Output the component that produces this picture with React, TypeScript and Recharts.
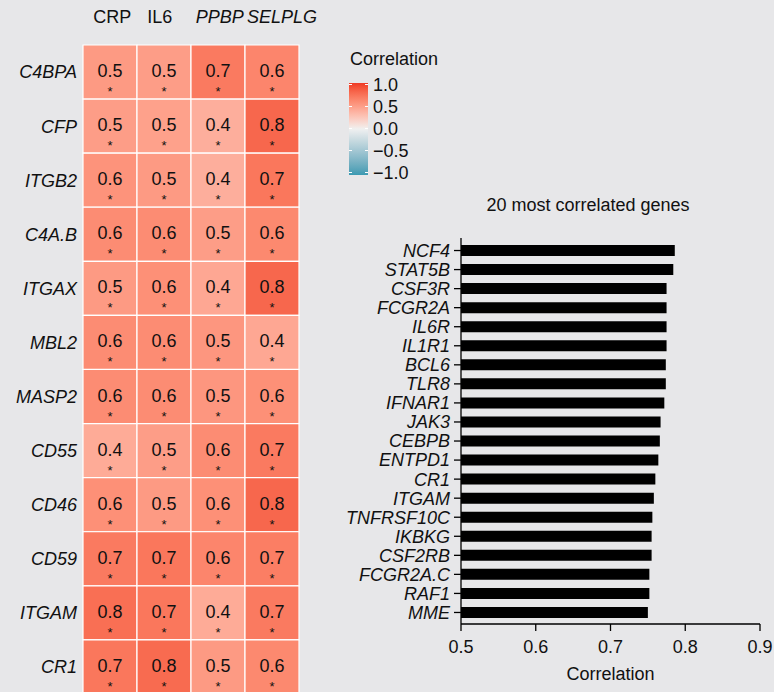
import { BarChart, Bar, XAxis, YAxis, Cell, LabelList, Legend } from "recharts";

const FONT = '"Liberation Sans", Arial, Helvetica, sans-serif';
const BG = "#E7E7E9";
const TEXT = "#111111";

// heatmap: genes x markers
const GENES = [
  "C4BPA",
  "CFP",
  "ITGB2",
  "C4A.B",
  "ITGAX",
  "MBL2",
  "MASP2",
  "CD55",
  "CD46",
  "CD59",
  "ITGAM",
  "CR1",
];
const COLUMNS = ["CRP", "IL6", "PPBP", "SELPLG"];
const ITALIC_COLUMNS = ["PPBP", "SELPLG"];

const CRP = [0.52, 0.5, 0.56, 0.6, 0.52, 0.6, 0.6, 0.42, 0.58, 0.7, 0.76, 0.72];
const IL6 = [0.5, 0.48, 0.52, 0.6, 0.58, 0.6, 0.6, 0.5, 0.52, 0.72, 0.72, 0.78];
const PPBP = [0.7, 0.4, 0.4, 0.5, 0.44, 0.54, 0.54, 0.6, 0.58, 0.64, 0.42, 0.52];
const SELPLG = [0.64, 0.8, 0.72, 0.62, 0.8, 0.44, 0.58, 0.7, 0.8, 0.68, 0.7, 0.62];

const LEGEND_TICKS = [1, 0.5, 0, -0.5, -1];

// bar chart: top correlated genes
const TOP_GENES = [
  "NCF4",
  "STAT5B",
  "CSF3R",
  "FCGR2A",
  "IL6R",
  "IL1R1",
  "BCL6",
  "TLR8",
  "IFNAR1",
  "JAK3",
  "CEBPB",
  "ENTPD1",
  "CR1",
  "ITGAM",
  "TNFRSF10C",
  "IKBKG",
  "CSF2RB",
  "FCGR2A.C",
  "RAF1",
  "MME",
];
const TOP_CORR = [
  0.786, 0.784, 0.775, 0.775, 0.775, 0.775, 0.774, 0.774, 0.772, 0.767,
  0.766, 0.764, 0.76, 0.758, 0.756, 0.755, 0.755, 0.752, 0.752, 0.75,
];
const X_TICKS = [0.5, 0.6, 0.7, 0.8, 0.9];

// diverging scale, interpolated in Lab like ggplot
const LOW = "#3B9AB2";
const MID = "#F0F0F0";
const HIGH = "#EF3A26";
const WHITE_PT = [0.95047, 1, 1.08883];

function hexToRgb(hex: string) {
  const n = parseInt(hex.slice(1), 16);
  return [(n >> 16) & 255, (n >> 8) & 255, n & 255];
}
function toLinear(c: number) {
  c /= 255;
  return c <= 0.04045 ? c / 12.92 : Math.pow((c + 0.055) / 1.055, 2.4);
}
function fromLinear(c: number) {
  const v = c <= 0.0031308 ? 12.92 * c : 1.055 * Math.pow(c, 1 / 2.4) - 0.055;
  return Math.round(Math.min(1, Math.max(0, v)) * 255);
}
function fLab(t: number) {
  return t > 216 / 24389 ? Math.cbrt(t) : ((24389 / 27) * t + 16) / 116;
}
function fLabInv(t: number) {
  return t * t * t > 216 / 24389 ? t * t * t : (116 * t - 16) / (24389 / 27);
}
function hexToLab(hex: string) {
  const [r, g, b] = hexToRgb(hex).map(toLinear);
  const X = 0.4124 * r + 0.3576 * g + 0.1805 * b;
  const Y = 0.2126 * r + 0.7152 * g + 0.0722 * b;
  const Z = 0.0193 * r + 0.1192 * g + 0.9505 * b;
  const fx = fLab(X / WHITE_PT[0]);
  const fy = fLab(Y / WHITE_PT[1]);
  const fz = fLab(Z / WHITE_PT[2]);
  return [116 * fy - 16, 500 * (fx - fy), 200 * (fy - fz)];
}
function labToHex([L, a, b]: number[]) {
  const fy = (L + 16) / 116;
  const fx = fy + a / 500;
  const fz = fy - b / 200;
  const X = fLabInv(fx) * WHITE_PT[0];
  const Y = fLabInv(fy) * WHITE_PT[1];
  const Z = fLabInv(fz) * WHITE_PT[2];
  const r = 3.2406 * X - 1.5372 * Y - 0.4986 * Z;
  const g = -0.9689 * X + 1.8758 * Y + 0.0415 * Z;
  const bl = 0.0557 * X - 0.204 * Y + 1.057 * Z;
  return (
    "#" +
    [r, g, bl].map((c) => fromLinear(c).toString(16).padStart(2, "0")).join("")
  );
}
function corrColor(v: number) {
  const mid = hexToLab(MID);
  const end = hexToLab(v >= 0 ? HIGH : LOW);
  const t = Math.min(1, Math.abs(v));
  return labToHex(mid.map((m, i) => m + (end[i] - m) * t));
}

const VALUES: Record<string, number[]> = { CRP, IL6, PPBP, SELPLG };

const heatRows = GENES.map((gene, i) => {
  const row: Record<string, string | number> = { gene };
  COLUMNS.forEach((c) => {
    row[c] = VALUES[c][i];
    row[`w_${c}`] = 1;
  });
  return row;
});

const topRows = TOP_GENES.map((gene, i) => ({ gene, corr: TOP_CORR[i] }));

// column headers are centred, but wide ones are pushed right to stay clear of the left neighbour
const CELL_W = 54;
function ColumnTick(props: any) {
  const { x, y, payload } = props;
  const name = COLUMNS[Math.floor(payload.value)];
  const approxW = name.length * 0.62 * 18;
  const left = Math.max(x - approxW / 2, x - CELL_W / 2 + 2);
  return (
    <text
      x={left}
      y={y}
      textAnchor="start"
      fontSize={18}
      fontFamily={FONT}
      fill={TEXT}
      fontStyle={ITALIC_COLUMNS.includes(name) ? "italic" : "normal"}
    >
      {name}
    </text>
  );
}

function GeneTick(props: any) {
  const { x, y, payload } = props;
  return (
    <text
      x={x}
      y={y}
      dy={6.4}
      textAnchor="end"
      fontSize={18}
      fontFamily={FONT}
      fontStyle="italic"
      fill={TEXT}
    >
      {payload.value}
    </text>
  );
}

function renderCellLabel(props: any) {
  const vb = props.viewBox ?? props;
  const x = vb.x ?? props.x;
  const y = vb.y ?? props.y;
  const width = vb.width ?? props.width;
  const cx = x + width / 2;
  return (
    <g>
      <text x={cx} y={y + 32} textAnchor="middle" fontSize={18} fontFamily={FONT} fill={TEXT}>
        {Number(props.value).toFixed(1)}
      </text>
      <text x={cx} y={y + 51} textAnchor="middle" fontSize={13} fontFamily={FONT} fill={TEXT}>
        *
      </text>
    </g>
  );
}

function CorrelationLegend() {
  const barTop = 43;
  const barH = 92;
  const tickY = (v: number) => 44.5 + (1 - v) * 44;
  return (
    <svg width={120} height={150} style={{ display: "block" }}>
      <defs>
        <linearGradient id="corrGrad" x1="0" y1="0" x2="0" y2="1">
          {Array.from({ length: 21 }, (_, k) => (
            <stop key={k} offset={k / 20} stopColor={corrColor(1 - k / 10)} />
          ))}
        </linearGradient>
      </defs>
      <text x={10} y={25} fontSize={18} fontFamily={FONT} fill={TEXT}>
        Correlation
      </text>
      <rect x={9} y={barTop} width={19} height={barH} fill="url(#corrGrad)" />
      {LEGEND_TICKS.map((v) => (
        <g key={v}>
          <line x1={9} x2={12} y1={tickY(v)} y2={tickY(v)} stroke="#fff" strokeWidth={1} />
          <line x1={25} x2={28} y1={tickY(v)} y2={tickY(v)} stroke="#fff" strokeWidth={1} />
          <text x={33} y={tickY(v) + 6.4} fontSize={18} fontFamily={FONT} fill={TEXT}>
            {v < 0 ? `\u2212${Math.abs(v).toFixed(1)}` : v.toFixed(1)}
          </text>
        </g>
      ))}
    </svg>
  );
}

export default function App() {
  return (
    <div
      style={{
        position: "absolute",
        left: 0,
        top: 0,
        width: 774,
        height: 692,
        background: BG,
        overflow: "hidden",
        fontFamily: FONT,
      }}
    >
      <div style={{ position: "absolute", left: 0, top: 0 }}>
        <BarChart
          layout="vertical"
          width={440}
          height={710}
          data={heatRows}
          barCategoryGap={0}
          margin={{ top: 0, right: 141, bottom: 16, left: 0 }}
        >
          <XAxis
            type="number"
            orientation="top"
            domain={[0, COLUMNS.length]}
            ticks={COLUMNS.map((_, i) => i + 0.5)}
            height={45}
            tickSize={0}
            tickMargin={22}
            axisLine={false}
            tickLine={false}
            interval={0}
            tick={<ColumnTick />}
          />
          <YAxis
            type="category"
            dataKey="gene"
            width={83}
            tickSize={0}
            tickMargin={6}
            axisLine={false}
            tickLine={false}
            interval={0}
            tick={<GeneTick />}
          />
          {COLUMNS.map((col) => (
            <Bar
              key={col}
              dataKey={`w_${col}`}
              stackId="heat"
              stroke="#ffffff"
              strokeWidth={1.2}
              isAnimationActive={false}
            >
              {heatRows.map((r, i) => (
                <Cell key={i} fill={corrColor(r[col] as number)} />
              ))}
              <LabelList dataKey={col} content={renderCellLabel} />
            </Bar>
          ))}
          <Legend
            layout="vertical"
            align="center"
            verticalAlign="middle"
            wrapperStyle={{ left: 340, top: 40, width: 120, height: 150 }}
            content={() => <CorrelationLegend />}
          />
        </BarChart>
      </div>

      <div
        style={{
          position: "absolute",
          left: 438,
          top: 196,
          width: 300,
          textAlign: "center",
          fontSize: 18,
          lineHeight: "18px",
          color: TEXT,
        }}
      >
        20 most correlated genes
      </div>

      <div style={{ position: "absolute", left: 330, top: 180 }}>
        <BarChart
          layout="vertical"
          width={444}
          height={512}
          data={topRows}
          margin={{ top: 58, right: 14, bottom: 8, left: 0 }}
        >
          <XAxis
            type="number"
            domain={[0.5, 0.9]}
            ticks={X_TICKS}
            interval={0}
            height={60}
            tickSize={7}
            tickMargin={9}
            tickFormatter={(v: number) => v.toFixed(1)}
            tick={{ fontSize: 18, fill: TEXT, fontFamily: FONT }}
            axisLine={{ stroke: "#000", strokeWidth: 1.3 }}
            tickLine={{ stroke: "#000", strokeWidth: 1.3 }}
            label={{
              value: "Correlation",
              position: "insideBottom",
              offset: 4,
              fontSize: 18,
              fill: TEXT,
              fontFamily: FONT,
            }}
          />
          <YAxis
            type="category"
            dataKey="gene"
            width={131}
            interval={0}
            padding={{ top: 3, bottom: 2 }}
            tickSize={7}
            tickMargin={4}
            tick={<GeneTick />}
            axisLine={{ stroke: "#000", strokeWidth: 1.3 }}
            tickLine={{ stroke: "#000", strokeWidth: 1.3 }}
          />
          <Bar dataKey="corr" fill="#000000" barSize={11} isAnimationActive={false} />
        </BarChart>
      </div>
    </div>
  );
}
